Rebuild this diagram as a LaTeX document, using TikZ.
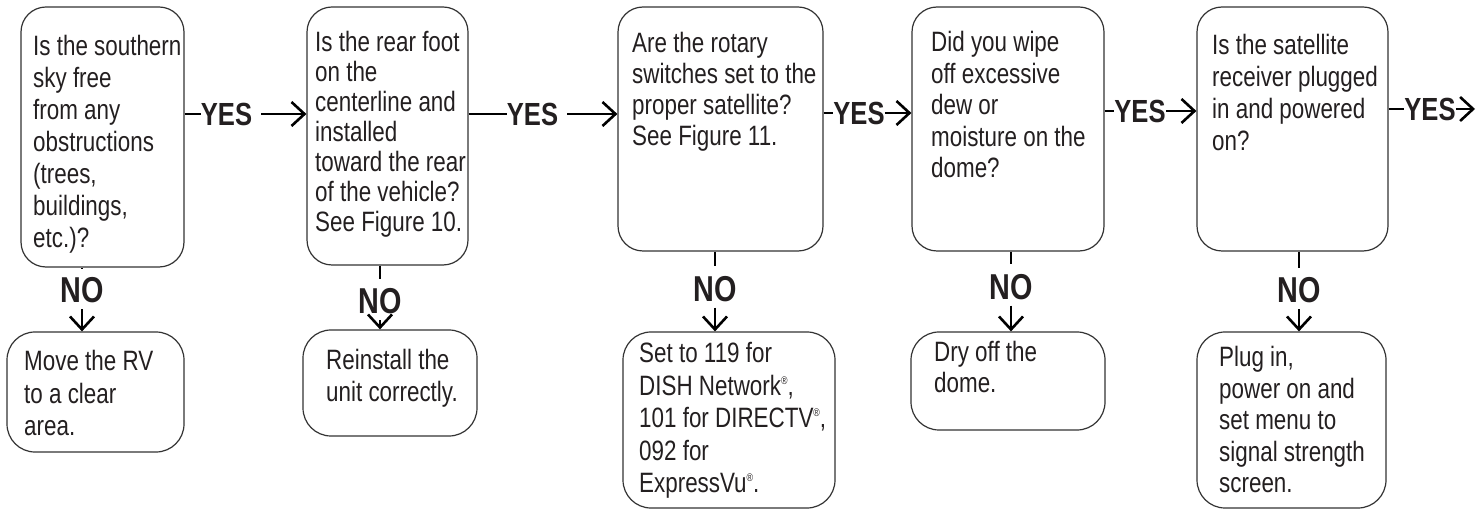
\documentclass[tikz,border=0pt]{standalone}
\usepackage{fontspec}
\setmainfont{Liberation Sans}[FakeStretch=0.8]
\usetikzlibrary{arrows.meta}
\definecolor{txt}{HTML}{231F20}
\definecolor{edge}{HTML}{333333}
\newcommand\btext[2]{\parbox[t]{230pt}{\raggedright\fontsize{28}{#1}\selectfont #2}}
\newcommand\regmark{\raisebox{11pt}{\fontsize{11}{11}\selectfont ®}}
\begin{document}
\begin{tikzpicture}[x=1pt,y=-1pt,
  qbox/.style={draw=edge, line width=1.2pt, rounded corners=25pt, inner sep=0pt},
  abox/.style={draw=edge, line width=1.2pt, rounded corners=28pt, inner sep=0pt},
  btxt/.style={anchor=base west, inner sep=0pt, text=txt},
  yeslab/.style={inner sep=0pt, text height=23pt, text depth=0pt, text=txt, font=\fontsize{32}{32}\selectfont\bfseries},
  nolab/.style={inner sep=0pt, text height=26pt, text depth=0pt, text=txt, font=\fontsize{36}{36}\selectfont\bfseries},
  conn/.style={draw=black, line width=2.6pt},
  arr/.style={-{Straight Barb[length=13pt,width=24pt,line width=2.6pt]}}
]
\useasboundingbox (0,0) rectangle (1478,510);

% question boxes
\node[qbox, minimum width=163pt, minimum height=260pt] (t1) at (102.5,137) {};
\node[qbox, minimum width=161pt, minimum height=258pt] (t2) at (387.5,136) {};
\node[qbox, minimum width=205pt, minimum height=244pt] (t3) at (720.5,129) {};
\node[qbox, minimum width=192pt, minimum height=244pt] (t4) at (1008,129) {};
\node[qbox, minimum width=191pt, minimum height=244pt] (t5) at (1292.5,129) {};

% action boxes
\node[abox, minimum width=177pt, minimum height=120pt] (b1) at (95.5,392) {};
\node[abox, minimum width=174pt, minimum height=106pt] (b2) at (390,383) {};
\node[abox, minimum width=212pt, minimum height=176pt] (b3) at (729,420) {};
\node[abox, minimum width=194pt, minimum height=98pt] (b4) at (1008,381) {};
\node[abox, minimum width=189pt, minimum height=176pt] (b5) at (1291.5,420) {};

% question texts
\node[btxt] (t1x) at (33,56) {\btext{32}{Is the southern\\sky free\\from any\\obstructions\\(trees,\\buildings,\\etc.)?}};
\node[btxt] (t2x) at (315,52) {\btext{30}{Is the rear foot\\on the\\centerline and\\installed\\toward the rear\\of the vehicle?\\See Figure 10.}};
\node[btxt] (t3x) at (632,53) {\btext{31}{Are the rotary\\switches set to the\\proper satellite?\\See Figure 11.}};
\node[btxt] (t4x) at (931,52) {\btext{31.5}{Did you wipe\\off excessive\\dew or\\moisture on the\\dome?}};
\node[btxt] (t5x) at (1212,55) {\btext{32}{Is the satellite\\receiver plugged\\in and powered\\on?}};

% action texts
\node[btxt] (b1x) at (24,370.5) {\btext{32.5}{Move the RV\\to a clear\\area.}};
\node[btxt] (b2x) at (326,370) {\btext{32}{Reinstall the\\unit correctly.}};
\node[btxt] (b3x) at (639,363) {\btext{32.4}{Set to 119 for\\DISH Network\regmark,\\101 for DIRECTV\regmark,\\092 for\\ExpressVu\regmark.}};
\node[btxt] (b4x) at (934,361.5) {\btext{31.5}{Dry off the\\dome.}};
\node[btxt] (b5x) at (1219,366.5) {\btext{31.6}{Plug in,\\power on and\\set menu to\\signal strength\\screen.}};

% YES labels
\node[yeslab] (y1) at (226.5,114) {YES};
\node[yeslab] (y2) at (532.5,114) {YES};
\node[yeslab] (y3) at (859,113) {YES};
\node[yeslab] (y4) at (1140,111) {YES};
\node[yeslab] (y5) at (1430,109) {YES};
\coordinate (yend) at (1475,109);

% NO labels
\node[nolab] (n1) at (82,290) {NO};
\node[nolab] (n2) at (380,301) {NO};
\node[nolab] (n3) at (715,288.5) {NO};
\node[nolab] (n4) at (1011,286.5) {NO};
\node[nolab] (n5) at (1299,290) {NO};

% YES connectors
\draw[conn] (t1.east |- y1) -- (y1.west);
\draw[conn, arr, shorten <=9pt] (y1.east) -- (t2.west |- y1);
\draw[conn] (t2.east |- y2) -- (y2.west);
\draw[conn, arr, shorten <=9pt] (y2.east) -- (t3.west |- y2);
\draw[conn] (t3.east |- y3) -- (y3.west);
\draw[conn, arr] (y3.east) -- (t4.west |- y3);
\draw[conn] (t4.east |- y4) -- (y4.west);
\draw[conn, arr] (y4.east) -- (t5.west |- y4);
\draw[conn] (t5.east |- y5) -- (y5.west);
\draw[conn, arr] (y5.east) -- (yend);

% NO connectors
\foreach \i in {1,...,5}{
  \draw[conn, shorten >=9pt] (t\i.south -| n\i.north) -- (n\i.north);
  \draw[conn, arr, shorten <=6pt] (n\i.south) -- (b\i.north -| n\i.south);
}
\end{tikzpicture}
\end{document}
